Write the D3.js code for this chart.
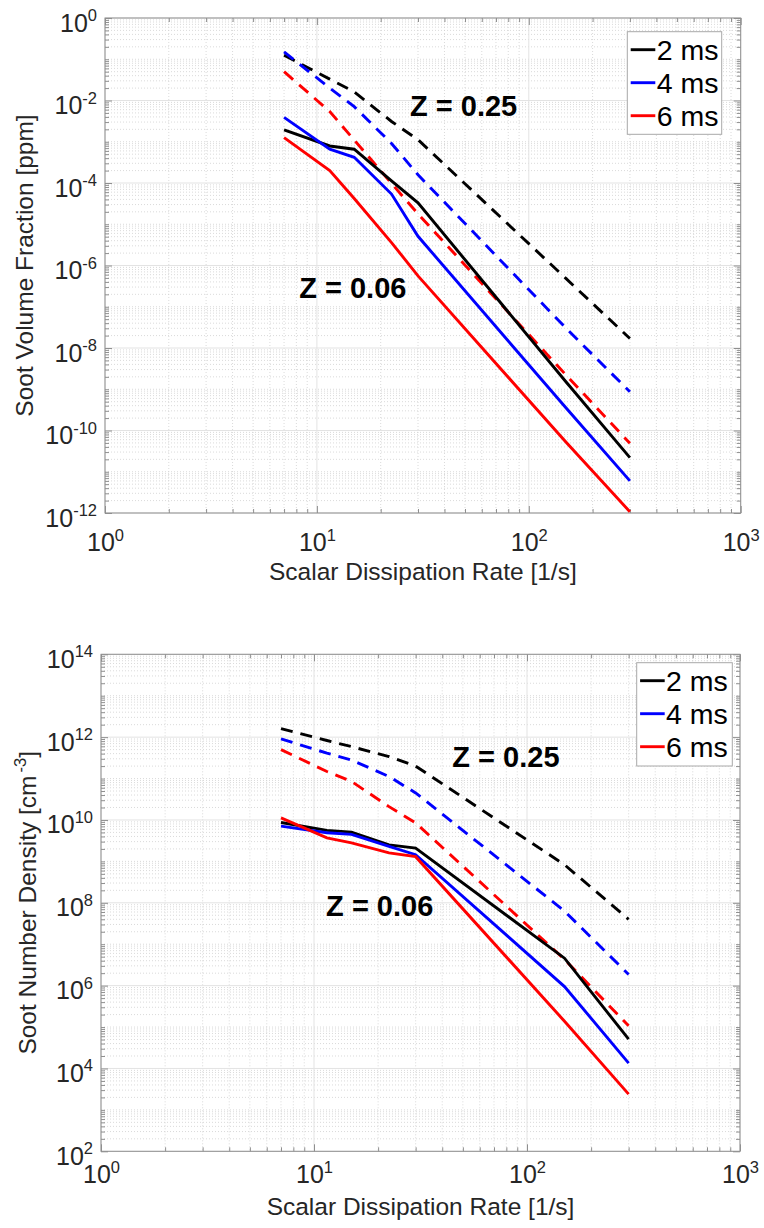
<!DOCTYPE html>
<html>
<head>
<meta charset="utf-8">
<script src="https://cdn.jsdelivr.net/npm/d3@7"></script>
<style>
body { margin: 0; background: #fff; }
text { font-family: "Liberation Sans", Arial, Helvetica, sans-serif; fill: #262626; }
</style>
</head>
<body>
<div id="chart"></div>
<script>
var W = 764, H = 1228;

// scalar dissipation rate [1/s]
var chi = [7, 11.5, 15, 22.5, 30, 150, 300];
var times = ["2 ms", "4 ms", "6 ms"];
var colors = ["#000000", "#0000ff", "#ff0000"];

// soot volume fraction [ppm], Z = 0.06 (solid) and Z = 0.25 (dashed)
var fv_Z006_2ms = [1.93e-3, 7.9e-4, 6.6e-4, 1.12e-4, 3.3e-5, 1.5e-9, 2.2e-11];
var fv_Z006_4ms = [3.9e-3, 6.6e-4, 4.2e-4, 5.4e-5, 5.1e-6, 3.5e-10, 6.0e-12];
var fv_Z006_6ms = [1.26e-3, 2.0e-4, 4.2e-5, 3.6e-6, 5.6e-7, 5.2e-11, 1.07e-12];
var fv_Z025_2ms = [0.126, 0.033, 0.0162, 3.1e-3, 1.12e-3, 4.8e-7, 1.7e-8];
var fv_Z025_4ms = [0.151, 0.020, 7.1e-3, 9.1e-4, 1.58e-4, 3.0e-8, 8.7e-10];
var fv_Z025_6ms = [0.050, 5.4e-3, 1.10e-3, 9.8e-5, 1.78e-5, 2.2e-9, 4.9e-11];

// soot number density [cm^-3]
var nd_Z006_2ms = [8.7e9, 5.6e9, 5.1e9, 2.5e9, 2.1e9, 4.6e6, 5.1e4];
var nd_Z006_4ms = [7.1e9, 4.9e9, 4.5e9, 2.3e9, 1.45e9, 9.5e5, 1.35e4];
var nd_Z006_6ms = [1.12e10, 3.7e9, 2.8e9, 1.6e9, 1.3e9, 1.38e5, 2.4e3];
var nd_Z025_2ms = [1.6e12, 8.3e11, 5.9e11, 3.4e11, 2.0e11, 8.3e8, 4.0e7];
var nd_Z025_4ms = [9.1e11, 4.1e11, 2.8e11, 1.12e11, 4.5e10, 6.3e7, 1.86e6];
var nd_Z025_6ms = [5.0e11, 1.48e11, 8.5e10, 2.1e10, 8.5e9, 4.3e6, 1.07e5];

var xTicks = [1, 10, 100, 1000];
var fvTicks = [1e-12, 1e-10, 1e-8, 1e-6, 1e-4, 1e-2, 1];
var ndTicks = [1e2, 1e4, 1e6, 1e8, 1e10, 1e12, 1e14];

// annotation positions in data units [chi, value]
var fvNotes = [["Z = 0.25", 27.5, 4.1e-3], ["Z = 0.06", 8.25, 1.6e-7]];
var ndNotes = [["Z = 0.25", 44.6, 1.95e11], ["Z = 0.06", 11.4, 4.75e7]];

var panels = [
  {
    left: 105, top: 18, w: 635.7, h: 495,
    yDomain: [1e-12, 1], yTicks: fvTicks,
    ylabel: ["Soot Volume Fraction [ppm]"],
    solid: [fv_Z006_2ms, fv_Z006_4ms, fv_Z006_6ms],
    dashed: [fv_Z025_2ms, fv_Z025_4ms, fv_Z025_6ms],
    notes: fvNotes,
    legend: {x: 627.3, y: 31.7, w: 94.4, h: 102.6},
    xTickY: 38, xTitleY: 67, yTitleX: 33
  },
  {
    left: 101, top: 654.3, w: 639, h: 497,
    yDomain: [1e2, 1e14], yTicks: ndTicks,
    ylabel: ["Soot Number Density [cm", "-3", "]"],
    solid: [nd_Z006_2ms, nd_Z006_4ms, nd_Z006_6ms],
    dashed: [nd_Z025_2ms, nd_Z025_4ms, nd_Z025_6ms],
    notes: ndNotes,
    legend: {x: 636.7, y: 662.7, w: 95.6, h: 103.3},
    xTickY: 32, xTitleY: 64, yTitleX: 36
  }
];

var svg = d3.select("#chart")
  .append("svg")
  .attr("width", W)
  .attr("height", H);

svg.append("rect").attr("width", W).attr("height", H).attr("fill", "#fff");

function exponent(v) {
  return String(Math.round(Math.log10(v)));
}

function minorValues(domain, majors) {
  var lo = Math.round(Math.log10(domain[0]));
  var hi = Math.round(Math.log10(domain[1]));
  var out = [];
  for (var e = lo; e < hi; e++) {
    for (var k = 1; k <= 9; k++) {
      var v = k * Math.pow(10, e);
      if (k == 1 && majors.indexOf(Math.pow(10, e)) >= 0) continue;
      if (k == 1) v = Math.pow(10, e);
      out.push(v);
    }
  }
  return out;
}

function powerLabel(sel, yOff, anchor) {
  sel.selectAll("text").each(function(d) {
    var t = d3.select(this);
    t.text(null)
      .attr("dy", null)
      .attr("font-size", 25)
      .attr("text-anchor", anchor);
    if (yOff != null) t.attr("y", yOff);
    t.append("tspan").text("10");
    t.append("tspan").attr("dy", -10.5).attr("font-size", 16.5).text(exponent(d));
  });
}

function drawPanel(p) {
  var x = d3.scaleLog().domain([1, 1000]).range([0, p.w]);
  var y = d3.scaleLog().domain(p.yDomain).range([p.h, 0]);

  var g = svg.append("g")
    .attr("transform", "translate(" + p.left + "," + p.top + ")");

  var xMinor = minorValues([1, 1000], xTicks);
  var yMinor = minorValues(p.yDomain, p.yTicks);

  // grid
  var grid = g.append("g");
  grid.selectAll(".xm").data(xMinor).enter().append("line")
    .attr("x1", function(d) { return x(d); }).attr("x2", function(d) { return x(d); })
    .attr("y1", 0).attr("y2", p.h)
    .attr("stroke", "#d0d0d0").attr("stroke-width", 0.8).attr("stroke-dasharray", "1,2");
  grid.selectAll(".ym").data(yMinor).enter().append("line")
    .attr("y1", function(d) { return y(d); }).attr("y2", function(d) { return y(d); })
    .attr("x1", 0).attr("x2", p.w)
    .attr("stroke", "#d0d0d0").attr("stroke-width", 0.8).attr("stroke-dasharray", "1,2");
  grid.selectAll(".xM").data(xTicks).enter().append("line")
    .attr("x1", function(d) { return x(d); }).attr("x2", function(d) { return x(d); })
    .attr("y1", 0).attr("y2", p.h)
    .attr("stroke", "#e3e3e3").attr("stroke-width", 1);
  grid.selectAll(".yM").data(p.yTicks).enter().append("line")
    .attr("y1", function(d) { return y(d); }).attr("y2", function(d) { return y(d); })
    .attr("x1", 0).attr("x2", p.w)
    .attr("stroke", "#e3e3e3").attr("stroke-width", 1);

  // axes, ticks pointing inward on all four sides
  var axisColor = "#8f8f8f";
  var axes = [
    [d3.axisBottom(x), "translate(0," + p.h + ")", xTicks, xMinor],
    [d3.axisTop(x), "translate(0,0)", xTicks, xMinor],
    [d3.axisLeft(y), "translate(0,0)", p.yTicks, yMinor],
    [d3.axisRight(y), "translate(" + p.w + ",0)", p.yTicks, yMinor]
  ];
  axes.forEach(function(a, i) {
    var minor = g.append("g").attr("transform", a[1])
      .call(a[0].tickValues(a[3]).tickSize(-4).tickSizeOuter(0).tickFormat(""));
    minor.select(".domain").remove();
    minor.selectAll("line").attr("stroke", axisColor);
    minor.selectAll("text").remove();

    var major = g.append("g").attr("transform", a[1])
      .call(a[0].tickValues(a[2]).tickSize(-7).tickSizeOuter(0).tickFormat(function(d) { return d; }));
    major.select(".domain").remove();
    major.selectAll("line").attr("stroke", axisColor);
    major.attr("font-family", null).attr("font-size", null);
    if (i == 0) {
      powerLabel(major, p.xTickY, "middle");
    } else if (i == 2) {
      major.selectAll("text").attr("x", -8);
      powerLabel(major, 13, "end");
    } else {
      major.selectAll("text").remove();
    }
  });

  g.append("rect")
    .attr("width", p.w).attr("height", p.h)
    .attr("fill", "none").attr("stroke", axisColor).attr("stroke-width", 1);

  // curves
  var line = d3.line()
    .x(function(d) { return x(d[0]); })
    .y(function(d) { return y(d[1]); });

  p.dashed.forEach(function(vals, i) {
    g.append("path")
      .attr("d", line(d3.zip(chi, vals)))
      .attr("fill", "none")
      .attr("stroke", colors[i])
      .attr("stroke-width", 2.9)
      .attr("stroke-dasharray", "12,8");
  });
  p.solid.forEach(function(vals, i) {
    g.append("path")
      .attr("d", line(d3.zip(chi, vals)))
      .attr("fill", "none")
      .attr("stroke", colors[i])
      .attr("stroke-width", 2.9);
  });

  // Z annotations
  p.notes.forEach(function(n) {
    g.append("text")
      .attr("x", x(n[1]))
      .attr("y", y(n[2]))
      .attr("font-size", 29)
      .attr("font-weight", "bold")
      .style("fill", "#000")
      .text(n[0]);
  });

  // axis titles
  svg.append("text")
    .attr("x", p.left + p.w / 2)
    .attr("y", p.top + p.h + p.xTitleY)
    .attr("text-anchor", "middle")
    .attr("font-size", 24.5)
    .text("Scalar Dissipation Rate [1/s]");

  var yt = svg.append("text")
    .attr("transform", "translate(" + p.yTitleX + "," + (p.top + p.h / 2) + ") rotate(-90)")
    .attr("text-anchor", "middle")
    .attr("font-size", 24.5);
  yt.append("tspan").text(p.ylabel[0]);
  if (p.ylabel.length > 1) {
    yt.append("tspan").attr("dx", 3).attr("dy", -10).attr("font-size", 16.5).text(p.ylabel[1]);
    yt.append("tspan").attr("dy", 10).text(p.ylabel[2]);
  }

  // legend
  var L = p.legend;
  var lg = svg.append("g").attr("transform", "translate(" + L.x + "," + L.y + ")");
  lg.append("rect")
    .attr("width", L.w).attr("height", L.h)
    .attr("fill", "#fff").attr("stroke", "#a8a8a8").attr("stroke-width", 1);
  times.forEach(function(t, i) {
    var ly = 18 + i * 33;
    lg.append("line")
      .attr("x1", 3.4).attr("x2", 28)
      .attr("y1", ly).attr("y2", ly)
      .attr("stroke", colors[i]).attr("stroke-width", 2.9);
    lg.append("text")
      .attr("x", 29.4).attr("y", ly + 10.7)
      .attr("font-size", 28.5)
      .style("fill", "#000")
      .text(t);
  });
}

panels.forEach(drawPanel);
</script>
</body>
</html>
